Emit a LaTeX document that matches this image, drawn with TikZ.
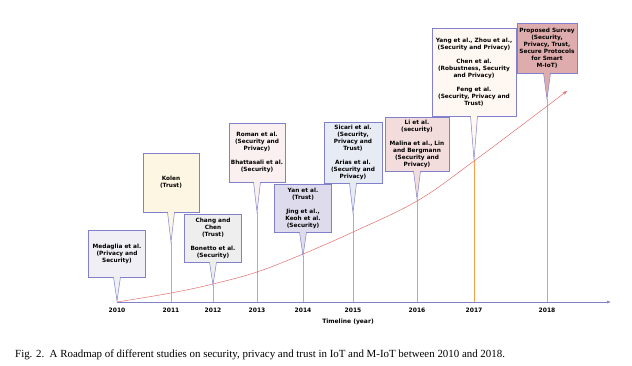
\documentclass[tikz,border=0pt]{standalone}
\usepackage{fontspec}
\setmainfont{Liberation Serif}
\setsansfont{DejaVu Sans}
\usetikzlibrary{arrows.meta}

\definecolor{bordc}{RGB}{128,128,204}
\definecolor{orangec}{RGB}{250,158,78}
\definecolor{redc}{RGB}{226,110,110}
\definecolor{fillmed}{RGB}{240,239,246}
\definecolor{fillkol}{RGB}{253,246,226}
\definecolor{fillcha}{RGB}{238,238,238}
\definecolor{fillrom}{RGB}{250,240,240}
\definecolor{fillyan}{RGB}{222,219,236}
\definecolor{fillsic}{RGB}{231,235,244}
\definecolor{fillli}{RGB}{242,220,220}
\definecolor{fillyng}{RGB}{255,248,242}
\definecolor{fillpro}{RGB}{222,172,172}

\tikzset{
	studybox/.style={draw=bordc, line width=0.6pt, align=center, inner sep=1pt,
		font=\sffamily\bfseries\fontsize{5.8}{7}\selectfont},
	pointer/.style={draw=bordc, line width=0.5pt},
	yearline/.style={draw=orangec, line width=0.9pt},
	yearlbl/.style={font=\sffamily\bfseries\fontsize{6}{7}\selectfont},
	axisline/.style={draw=bordc, line width=0.6pt, -{Latex[length=4pt,width=3pt]}},
	trend/.style={draw=redc, line width=0.5pt, -{Stealth[length=4.5pt,width=3.5pt]}},
}

\begin{document}
\begin{tikzpicture}[x=1pt, y=-1pt]
	\useasboundingbox (0,0) rectangle (632,366);
	
	% timeline axis and years
	\foreach \yr/\xx in {2010/117, 2011/171, 2012/213, 2013/257, 2014/303, 2015/353, 2016/417, 2017/474, 2018/547} {
		\coordinate (a\yr) at (\xx,302);
		\node[yearlbl] (y\yr) at (\xx,310) {\yr};
	}
	\coordinate (axisend) at (611,302);
	\node[yearlbl] (tllbl) at (348,322) {Timeline (year)};
	
	% studies
	\node[studybox, fill=fillmed, minimum width=57pt, minimum height=47pt] (medaglia) at (117,253.5) {Medaglia et al.\\(Privacy and\\Security)};
	\node[studybox, fill=fillkol, minimum width=56pt, minimum height=59pt] (kolen) at (171,182.5) {Kolen\\(Trust)};
	\node[studybox, fill=fillcha, minimum width=57pt, minimum height=48pt] (chang) at (213,238) {Chang and\\Chen\\(Trust)\\[7pt]Bonetto et al.\\(Security)};
	\node[studybox, fill=fillrom, minimum width=56pt, minimum height=59pt] (roman) at (257,152.5) {Roman et al.\\(Security and\\Privacy)\\[7pt]Bhattasali et al.\\(Security)};
	\node[studybox, fill=fillyan, minimum width=57pt, minimum height=48pt] (yan) at (303,208) {Yan et al.\\(Trust)\\[7pt]Jing et al.,\\Keoh et al.\\(Security)};
	\node[studybox, fill=fillsic, minimum width=58pt, minimum height=61pt] (sicari) at (353,152.5) {Sicari et al.\\(Security,\\Privacy and\\Trust)\\[7pt]Arias et al.\\(Security and\\Privacy)};
	\node[studybox, fill=fillli, minimum width=64pt, minimum height=54pt] (li) at (417,144) {Li et al.\\(security)\\[7pt]Malina et al., Lin\\and Bergmann\\(Security and\\Privacy)};
	\node[studybox, fill=fillyng, minimum width=84pt, minimum height=88pt] (yang) at (474,72) {Yang et al., Zhou et al.,\\(Security and Privacy)\\[7pt]Chen et al.\\(Robustness, Security\\and Privacy)\\[7pt]Feng et al.\\(Security, Privacy and\\Trust)};
	\node[studybox, fill=fillpro, minimum width=60pt, minimum height=50pt] (proposed) at (547,48) {Proposed Survey\\(Security,\\Privacy, Trust,\\Secure Protocols\\for Smart\\M-IoT)};
	
	\coordinate (medaglia-tip) at (117,301);
	\coordinate (kolen-tip) at (171,242);
	\coordinate (chang-tip) at (213,285);
	\coordinate (roman-tip) at (257,212);
	\coordinate (yan-tip) at (303,256);
	\coordinate (sicari-tip) at (353,213);
	\coordinate (li-tip) at (417,199);
	\coordinate (yang-tip) at (474,160);
	\coordinate (proposed-tip) at (547,99);
	
	\foreach \b/\yr in {kolen/2011, chang/2012, roman/2013, yan/2014, sicari/2015, li/2016, yang/2017, proposed/2018}
		\draw[yearline] (\b-tip) -- (a\yr);
	
	\draw[axisline] (a2010) -- (axisend);
	\draw[trend] plot[smooth, tension=0.6] coordinates {(117,302) (171,293) (213,284) (257,272) (303,254) (353,232) (417,201) (474,161) (567,91)};
	
	% callout pointers
	\foreach \b/\c in {medaglia/fillmed, kolen/fillkol, chang/fillcha, roman/fillrom, yan/fillyan, sicari/fillsic, li/fillli, yang/fillyng, proposed/fillpro} {
		\fill[\c] ([xshift=-3.5pt,yshift=0.8pt]\b.south) -- (\b-tip) -- ([xshift=3.5pt,yshift=0.8pt]\b.south) -- cycle;
		\draw[pointer] ([xshift=-3.5pt,yshift=0.3pt]\b.south) -- (\b-tip) -- ([xshift=3.5pt,yshift=0.3pt]\b.south);
	}
	
	\node[anchor=base west, font=\fontsize{10.9}{13}\selectfont, inner sep=0pt] (caption) at (15,357) {Fig. 2.\enspace A Roadmap of different studies on security, privacy and trust in IoT and M-IoT between 2010 and 2018.};
\end{tikzpicture}
\end{document}
